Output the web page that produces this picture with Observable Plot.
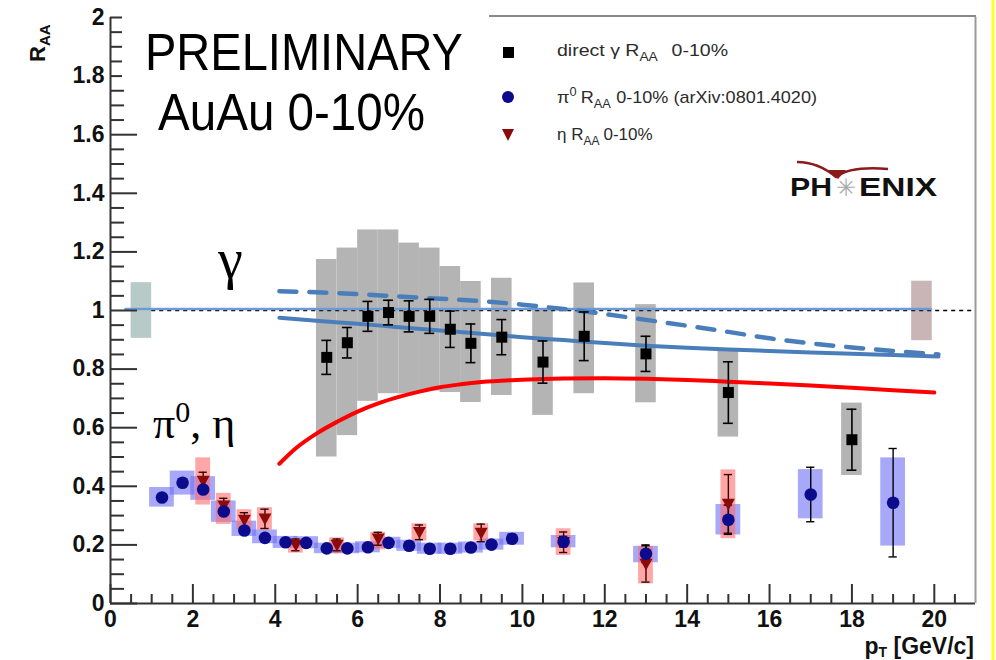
<!DOCTYPE html>
<html><head><meta charset="utf-8">
<script src="https://cdn.jsdelivr.net/npm/d3@7"></script>
<script src="https://cdn.jsdelivr.net/npm/@observablehq/plot@0.6"></script>
<style>
body{margin:0;background:#fff;}
#wrap{position:relative;width:996px;height:660px;overflow:hidden;background:#fff;}
</style></head><body><div id="wrap"></div>
<script>
// ---- direct photon R_AA ----
const gammaPt    = [5.25,5.75,6.25,6.75,7.25,7.75,8.25,8.75,9.5,10.5,11.5,13,15,18];
const gammaRaa   = [0.84,0.89,0.98,0.993,0.98,0.98,0.936,0.888,0.909,0.824,0.912,0.852,0.72,0.559];
const gammaStat  = [0.058,0.052,0.051,0.042,0.053,0.058,0.062,0.066,0.06,0.072,0.083,0.06,0.105,0.104];
const gammaSysLo = [0.50,0.573,0.69,0.716,0.715,0.725,0.72,0.686,0.71,0.642,0.716,0.685,0.568,0.437];
const gammaSysHi = [1.174,1.213,1.275,1.275,1.23,1.213,1.15,1.099,1.11,1.006,1.094,1.02,0.863,0.684];
// ---- pi0 R_AA ----
const pi0Pt    = [1.25,1.75,2.25,2.75,3.25,3.75,4.25,4.75,5.25,5.75,6.25,6.75,7.25,7.75,8.25,8.75,9.25,9.75,11,13,15,17,19];
const pi0Raa   = [0.362,0.412,0.389,0.314,0.249,0.224,0.209,0.207,0.188,0.188,0.192,0.207,0.197,0.187,0.187,0.191,0.201,0.221,0.211,0.17,0.286,0.372,0.344];
const pi0Stat  = [0.01,0.01,0.01,0.01,0.008,0.008,0.008,0.008,0.008,0.008,0.009,0.009,0.009,0.01,0.011,0.012,0.013,0.015,0.018,0.03,0.05,0.093,0.185];
const pi0SysLo = [0.329,0.37,0.352,0.277,0.229,0.204,0.188,0.187,0.17,0.17,0.173,0.188,0.178,0.168,0.168,0.172,0.182,0.199,0.19,0.139,0.234,0.289,0.196];
const pi0SysHi = [0.396,0.452,0.433,0.350,0.281,0.251,0.229,0.228,0.206,0.206,0.211,0.226,0.216,0.206,0.206,0.21,0.22,0.243,0.232,0.195,0.338,0.457,0.497];
// ---- eta R_AA ----
const etaPt    = [2.25,2.75,3.25,3.75,4.5,5.5,6.5,7.5,9,11,13,15];
const etaRaa   = [0.418,0.334,0.285,0.289,0.2,0.2,0.221,0.243,0.241,0.209,0.135,0.34];
const etaStat  = [0.03,0.025,0.025,0.033,0.02,0.02,0.022,0.025,0.03,0.035,0.062,0.1];
const etaSysLo = [0.336,0.27,0.252,0.25,0.172,0.17,0.183,0.213,0.213,0.164,0.067,0.221];
const etaSysHi = [0.497,0.376,0.32,0.327,0.222,0.224,0.243,0.272,0.272,0.255,0.195,0.456];
// ---- theory curves ----
const blueCurvePt  = [4.1,5,6,7,8,9,10,11,12,13,14,15,16,17,18,19,20.1];
const blueSolidRaa = [0.975,0.965,0.955,0.943,0.932,0.921,0.909,0.899,0.889,0.88,0.873,0.867,0.862,0.857,0.852,0.848,0.843];
const blueDashRaa  = [1.066,1.062,1.056,1.048,1.04,1.032,1.02,1.005,0.988,0.968,0.948,0.927,0.905,0.888,0.874,0.862,0.85];
const redCurvePt   = [4.1,4.5,5,5.5,6,6.5,7,7.5,8,8.5,9,10,11,12,13,14,15,16,17,18,19,20];
const redCurveRaa  = [0.477,0.53,0.58,0.62,0.655,0.683,0.705,0.723,0.738,0.748,0.756,0.764,0.768,0.769,0.767,0.763,0.757,0.751,0.744,0.736,0.728,0.72];
// ---- reference lines / normalisation boxes ----
const unityRaa = [1];
const unityPtRange = [1.0, 21];
const blueUnityRaa = [1.005];
const blueUnityPtRange = [0.35, 19.95];
const normPt = [0.75, 19.7];
const normLo = [0.905, 0.897];
const normHi = [1.095, 1.1];
// ---- ticks ----
const xTickLabels = [0,2,4,6,8,10,12,14,16,18,20];
const xMinorTicks = [0.5,1,1.5,2.5,3,3.5,4.5,5,5.5,6.5,7,7.5,8.5,9,9.5,10.5,11,11.5,12.5,13,13.5,14.5,15,15.5,16.5,17,17.5,18.5,19,19.5,20.5];
const yTickLabels = [0,0.2,0.4,0.6,0.8,1,1.2,1.4,1.6,1.8,2];
const yMinorTicks = d3.range(0,41).map(i => +(i*0.05).toFixed(2)).filter(v => Math.abs(v*5 - Math.round(v*5)) > 1e-6);

const gamma = gammaPt.map((x,i) => ({x, y: gammaRaa[i], e: gammaStat[i], lo: gammaSysLo[i], hi: gammaSysHi[i]}));
const pi0 = pi0Pt.map((x,i) => ({x, y: pi0Raa[i], e: pi0Stat[i], lo: pi0SysLo[i], hi: pi0SysHi[i]}));
const eta = etaPt.map((x,i) => ({x, y: etaRaa[i], e: etaStat[i], lo: etaSysLo[i], hi: etaSysHi[i]}));
const blueSolid = blueCurvePt.map((x,i) => ({x, y: blueSolidRaa[i]}));
const blueDash = blueCurvePt.map((x,i) => ({x, y: blueDashRaa[i]}));
const red = redCurvePt.map((x,i) => ({x, y: redCurveRaa[i]}));
const norm = normPt.map((x,i) => ({x, lo: normLo[i], hi: normHi[i]}));

const triDown = {draw(ctx, size) { const r = Math.sqrt(size / Math.PI); ctx.moveTo(-r, -0.8*r); ctx.lineTo(r, -0.8*r); ctx.lineTo(0, r); ctx.closePath(); }};

const errBars = (data, cap, stroke, sw) => [
  Plot.ruleX(data, {x: "x", y1: d => d.y - d.e, y2: d => d.y + d.e, stroke, strokeWidth: sw}),
  Plot.ruleY(data, {y: d => d.y + d.e, x1: d => d.x - cap, x2: d => d.x + cap, stroke, strokeWidth: sw}),
  Plot.ruleY(data, {y: d => d.y - d.e, x1: d => d.x - cap, x2: d => d.x + cap, stroke, strokeWidth: sw})
];

const font = "'Liberation Sans', Arial, Helvetica, sans-serif";
const plot = Plot.plot({
  width: 996, height: 660,
  marginLeft: 110, marginRight: 21, marginTop: 17, marginBottom: 57,
  x: {domain: [0, 21]},
  y: {domain: [0, 2]},
  style: {fontFamily: font, background: "transparent", overflow: "visible"},
  marks: [
    Plot.rect([norm[0]], {x1: d => d.x - 0.25, x2: d => d.x + 0.25, y1: "lo", y2: "hi", fill: "#b6cbc7"}),
    Plot.rect([norm[1]], {x1: d => d.x - 0.25, x2: d => d.x + 0.25, y1: "lo", y2: "hi", fill: "#c9b5b5"}),
    Plot.rect(gamma, {x1: d => d.x - 0.25, x2: d => d.x + 0.25, y1: "lo", y2: "hi", fill: "#b4b4b4"}),
    Plot.rect(pi0, {x1: d => d.x - 0.3, x2: d => d.x + 0.3, y1: "lo", y2: "hi", fill: "#6e6ef5", fillOpacity: 0.6}),
    Plot.rect(eta, {x1: d => d.x - 0.18, x2: d => d.x + 0.18, y1: "lo", y2: "hi", fill: "#ff6a6a", fillOpacity: 0.6}),
    Plot.ruleY(unityRaa, {x1: unityPtRange[0], x2: unityPtRange[1], stroke: "#000", strokeWidth: 1.6, strokeDasharray: "4,4"}),
    Plot.ruleY(blueUnityRaa, {x1: blueUnityPtRange[0], x2: blueUnityPtRange[1], stroke: "#6d9ad6", strokeWidth: 2.5}),
    Plot.line(blueDash, {x: "x", y: "y", stroke: "#4a7ebb", strokeWidth: 4.5, strokeDasharray: "17,13", curve: "monotone-x"}),
    Plot.line(blueSolid, {x: "x", y: "y", stroke: "#4a7ebb", strokeWidth: 4, curve: "monotone-x"}),
    Plot.line(red, {x: "x", y: "y", stroke: "#ff0000", strokeWidth: 4, curve: "monotone-x"}),
    ...errBars(gamma, 0.12, "#000", 1.6),
    ...errBars(eta, 0.1, "#3a0000", 1.4),
    ...errBars(pi0, 0.1, "#000", 1.4),
    Plot.dot(eta, {x: "x", y: "y", symbol: triDown, r: 6.5, fill: "#8b0a0a", stroke: "none"}),
    Plot.dot(pi0, {x: "x", y: "y", symbol: "circle", r: 6.3, fill: "#0b0b8c", stroke: "none"}),
    Plot.dot(gamma, {x: "x", y: "y", symbol: "square", r: 6.2, fill: "#000", stroke: "none"}),
    // axes
    Plot.ruleY([0], {stroke: "#333", strokeWidth: 2}),
    Plot.ruleX([0], {stroke: "#333", strokeWidth: 2}),
    Plot.ruleX([21], {stroke: "#9a9a9a", strokeWidth: 2}),
    Plot.axisX({ticks: xMinorTicks, tickSize: -9, tickFormat: () => "", stroke: "#333", strokeWidth: 2, label: null}),
    Plot.axisX({ticks: xTickLabels, tickSize: -19, tickFormat: () => "", stroke: "#333", strokeWidth: 2, label: null}),
    Plot.axisX({ticks: xTickLabels, tickSize: 0, tickPadding: 7, tickFormat: d => String(d), fontSize: 23, fontWeight: "bold", fill: "#111", label: null}),
    Plot.axisY({ticks: yMinorTicks, tickSize: -14, tickFormat: () => "", stroke: "#333", strokeWidth: 2, label: null}),
    Plot.axisY({ticks: yTickLabels, tickSize: -27, tickFormat: () => "", stroke: "#333", strokeWidth: 2, label: null}),
    Plot.axisY({ticks: yTickLabels, tickSize: 0, tickPadding: 6, tickFormat: d => String(+d.toFixed(1)), fontSize: 23, fontWeight: "bold", fill: "#111", label: null})
  ]
});
document.getElementById("wrap").appendChild(plot);

// ---- annotations, legend, logo (real text added to the same SVG) ----
const svg = d3.select(plot);
const ann = svg.append("g").attr("font-family", font).attr("text-anchor", "start");
// white label box of the slide that hides the top of the frame
ann.append("rect").attr("x", 122).attr("y", 12).attr("width", 366).attr("height", 70).attr("fill", "#fff");
ann.append("text").attr("x", 145).attr("y", 70).attr("font-size", 51).attr("textLength", 318).attr("lengthAdjust", "spacingAndGlyphs").attr("fill", "#000").text("PRELIMINARY");
ann.append("text").attr("x", 158).attr("y", 130).attr("font-size", 51).attr("textLength", 267).attr("lengthAdjust", "spacingAndGlyphs").attr("fill", "#000").text("AuAu 0-10%");
const serif = "'Liberation Serif', 'DejaVu Serif', 'Times New Roman', serif";
ann.append("text").attr("x", 218).attr("y", 278).attr("font-family", serif).attr("font-size", 56).attr("fill", "#000").text("γ");
const pe = ann.append("text").attr("x", 153).attr("y", 438).attr("font-family", serif).attr("font-size", 44).attr("fill", "#000");
pe.append("tspan").text("π");
pe.append("tspan").attr("font-size", 30).attr("dy", -16).text("0");
pe.append("tspan").attr("dy", 16).text(", η");

// axis titles
const yl = ann.append("text").attr("transform", "translate(45,62) rotate(-90)").attr("font-size", 22).attr("font-weight", "bold").attr("fill", "#111");
yl.append("tspan").text("R");
yl.append("tspan").attr("font-size", 15).attr("dy", 5).text("AA");
const xl = ann.append("text").attr("x", 974).attr("y", 654).attr("text-anchor", "end").attr("font-size", 23).attr("font-weight", "bold").attr("fill", "#111");
xl.append("tspan").text("p");
xl.append("tspan").attr("font-size", 14).attr("dy", 3).text("T");
xl.append("tspan").attr("dy", -3).text(" [GeV/c]");

// legend
const lg = ann.append("g").attr("fill", "#2b2b2b").attr("font-size", 17);
lg.append("line").attr("x1", 489).attr("x2", 976).attr("y1", 16).attr("y2", 16).attr("stroke", "#8a8a8a").attr("stroke-width", 2);
lg.append("rect").attr("x", 503).attr("y", 47).attr("width", 11).attr("height", 11).attr("fill", "#000");
lg.append("circle").attr("cx", 508).attr("cy", 97).attr("r", 6).attr("fill", "#0b0b8c");
lg.append("path").attr("d", "M502,129 L514,129 L508,141 Z").attr("fill", "#8b0a0a");
const l1 = lg.append("text").attr("x", 557).attr("y", 56).attr("textLength", 171).attr("lengthAdjust", "spacingAndGlyphs");
l1.append("tspan").text("direct γ R");
l1.append("tspan").attr("font-size", 12).attr("dy", 5).text("AA");
l1.append("tspan").attr("dy", -5).attr("dx", 12).text("0-10%");
const l2 = lg.append("text").attr("x", 557).attr("y", 103).attr("textLength", 260).attr("lengthAdjust", "spacingAndGlyphs");
l2.append("tspan").text("π");
l2.append("tspan").attr("font-size", 12).attr("dy", -7).text("0");
l2.append("tspan").attr("dy", 7).attr("dx", 4).text("R");
l2.append("tspan").attr("font-size", 12).attr("dy", 5).text("AA");
l2.append("tspan").attr("dy", -5).attr("dx", 5).text("0-10% (arXiv:0801.4020)");
const l3 = lg.append("text").attr("x", 557).attr("y", 140);
l3.append("tspan").text("η R");
l3.append("tspan").attr("font-size", 12).attr("dy", 5).text("AA");
l3.append("tspan").attr("dy", -5).attr("dx", 4).text("0-10%");

// PHENIX logo
const logo = ann.append("g");
logo.append("path").attr("d", "M797,162 Q818,162 836,177 Q850,166 888,169").attr("fill", "none").attr("stroke", "#8b1a1a").attr("stroke-width", 2.5);
logo.append("path").attr("d", "M828,170 L838,179 L846,170 Z").attr("fill", "#8b1a1a");
logo.append("text").attr("x", 790).attr("y", 196).attr("font-size", 25).attr("font-weight", "bold").attr("fill", "#111").attr("textLength", 42).attr("lengthAdjust", "spacingAndGlyphs").text("PH");
logo.append("text").attr("x", 846).attr("y", 196).attr("text-anchor", "middle").attr("font-size", 24).attr("fill", "#aaa").text("✳");
logo.append("text").attr("x", 859).attr("y", 196).attr("font-size", 25).attr("font-weight", "bold").attr("fill", "#111").attr("textLength", 78).attr("lengthAdjust", "spacingAndGlyphs").text("ENIX");

// slide edge
ann.append("line").attr("x1", 993).attr("x2", 993).attr("y1", 0).attr("y2", 660).attr("stroke", "#ffff20").attr("stroke-width", 3);
</script>
</body></html>
